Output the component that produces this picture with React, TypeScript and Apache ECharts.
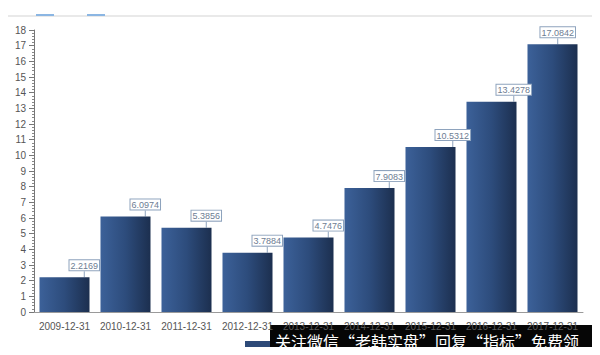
import React, { useEffect, useRef } from "react";
import * as echarts from "echarts";

const categories = [
  "2009-12-31", "2010-12-31", "2011-12-31", "2012-12-31", "2013-12-31",
  "2014-12-31", "2015-12-31", "2016-12-31", "2017-12-31",
];
const values = [2.2169, 6.0974, 5.3856, 3.7884, 4.7476, 7.9083, 10.5312, 13.4278, 17.0842];
const yTicks = { min: 0, max: 18, interval: 1 };
const watermark = "关注微信“老韩实盘”回复“指标”免费领";

export default function App() {
  const ref = useRef<HTMLDivElement>(null);
  useEffect(() => {
    if (!ref.current) return;
    const chart = echarts.init(ref.current, undefined, { renderer: "svg" });
    const barColor = new echarts.graphic.LinearGradient(0, 0, 1, 0, [
      { offset: 0, color: "#3c6199" },
      { offset: 0.5, color: "#2d4c7c" },
      { offset: 1, color: "#1c2f4f" },
    ]);
    chart.setOption({
      animation: false,
      backgroundColor: "#ffffff",
      textStyle: { fontFamily: "Liberation Sans, Arial, sans-serif" },
      grid: { left: 34, right: 17, top: 30, bottom: 43 },
      xAxis: {
        type: "category",
        data: categories,
        axisLine: { lineStyle: { color: "#9a9a9a" } },
        axisTick: { alignWithLabel: true, length: 4, lineStyle: { color: "#9a9a9a" } },
        axisLabel: { color: "#555", fontSize: 10, margin: 9, interval: 0 },
      },
      yAxis: {
        type: "value",
        min: yTicks.min,
        max: yTicks.max,
        interval: yTicks.interval,
        axisLine: { show: true, lineStyle: { color: "#777" } },
        axisTick: { show: true, inside: false, length: 5, lineStyle: { color: "#777" } },
        minorTick: { show: true, splitNumber: 5, length: 2, lineStyle: { color: "#888" } },
        splitLine: { show: false },
        axisLabel: { color: "#555", fontSize: 10, margin: 8 },
      },
      series: [
        {
          type: "bar",
          data: values,
          barCategoryGap: "18%",
          itemStyle: { color: barColor },
          label: {
            show: true,
            position: "top",
            color: "#6d7d93",
            fontSize: 9,
            backgroundColor: "#ffffff",
            borderColor: "#8ea3bd",
            borderWidth: 1,
            padding: [1, 1, 0, 1],
            formatter: (p: any) => p.value.toFixed(4),
          },
          labelLayout: (p: any) => {
            let x = p.rect.x + p.rect.width * 0.6;
            const maxRight = 577;
            if (x + p.labelRect.width > maxRight) x = maxRight - p.labelRect.width;
            return {
              x,
              y: p.rect.y - 5 - p.labelRect.height,
              align: "left",
              verticalAlign: "top",
            };
          },
          labelLine: { show: true, lineStyle: { color: "#8ea3bd", width: 1 } },
        },
      ],
      graphic: [
        { type: "line", shape: { x1: 8, y1: 16, x2: 600, y2: 16 }, style: { stroke: "#e2e2e2", lineWidth: 1.5 } },
        { type: "rect", shape: { x: 36, y: 14, width: 18, height: 2 }, style: { fill: "#8bb6e3" } },
        { type: "rect", shape: { x: 87, y: 14, width: 18, height: 2 }, style: { fill: "#8bb6e3" } },
        { type: "rect", shape: { x: 245, y: 341, width: 26, height: 6 }, style: { fill: "#2d4a78" } },
        { type: "rect", shape: { x: 270, y: 325, width: 330, height: 30 }, style: { fill: "#060606" } },
        {
          type: "text",
          x: 275,
          y: 341,
          style: {
            text: watermark,
            fill: "#ffffff",
            fontSize: 16,
            fontFamily: "Noto Sans CJK SC",
            verticalAlign: "middle",
          },
        },
      ],
    });
    return () => chart.dispose();
  }, []);
  return <div ref={ref} style={{ width: 600, height: 355, margin: -8 }} />;
}
